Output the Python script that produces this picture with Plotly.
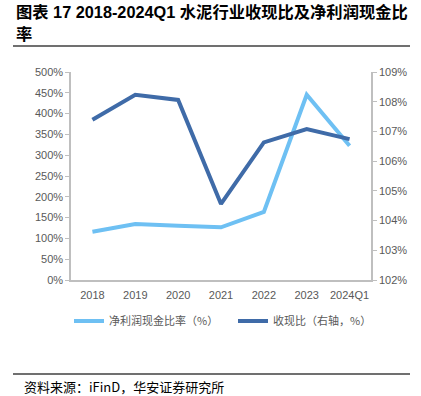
import plotly.graph_objects as go

categories = ["2018", "2019", "2020", "2021", "2022", "2023", "2024Q1"]
net_profit_cash_ratio = [116.0, 134.6, 130.5, 126.7, 163.5, 445.4, 322.8]   # %
cash_collection_ratio = [107.39, 108.23, 108.06, 104.56, 106.63, 107.08, 106.74]  # % (right axis)
left_ticks = [0, 50, 100, 150, 200, 250, 300, 350, 400, 450, 500]
right_ticks = [102, 103, 104, 105, 106, 107, 108, 109]

LIGHT = "#6EC0F3"
DARK = "#3F6BA8"
AXIS = "#BFBFBF"
TXT = "#595959"
FONT = "Liberation Sans, Noto Sans CJK SC, sans-serif"

W, H = 421, 396
ml, mr, mt, mb = 71, 50, 72, 116
pw = W - ml - mr
ph = H - mt - mb
def px(x):
    return (x - ml) / pw
def py(y):
    return (H - mb - y) / ph

fig = go.Figure()
fig.add_trace(go.Scatter(
    x=categories, y=net_profit_cash_ratio, mode="lines",
    name="净利润现金比率（%）", line=dict(color=LIGHT, width=4), legend="legend",
))
fig.add_trace(go.Scatter(
    x=categories, y=cash_collection_ratio, mode="lines", yaxis="y2",
    name="收现比（右轴，%）", line=dict(color=DARK, width=4), legend="legend2",
))

leg_common = dict(
    orientation="h", xanchor="left", yanchor="middle",
    font=dict(size=11, color=TXT, family="Noto Sans CJK SC"),
    itemwidth=30, bgcolor="rgba(0,0,0,0)",
)

fig.update_layout(
    width=W, height=H,
    margin=dict(l=ml, r=mr, t=mt, b=mb),
    paper_bgcolor="white", plot_bgcolor="white",
    font=dict(family=FONT, size=11, color=TXT),
    showlegend=True,
    legend=dict(x=px(69), y=py(321), **leg_common),
    legend2=dict(x=px(233), y=py(321), **leg_common),
    xaxis=dict(
        type="category", range=[-0.5, len(categories) - 0.5],
        showgrid=False, showline=True, linecolor=AXIS, linewidth=1.5,
        ticks="", tickfont=dict(size=11, color=TXT), zeroline=False, ticklabelstandoff=4,
    ),
    yaxis=dict(
        range=[0, 500], tickvals=left_ticks, ticktext=[f"{v}%" for v in left_ticks],
        showgrid=False, showline=True, linecolor=AXIS, linewidth=1.5,
        ticks="outside", ticklen=4, tickcolor=AXIS, zeroline=False,
        tickfont=dict(size=11, color=TXT),
    ),
    yaxis2=dict(
        range=[102, 109], tickvals=right_ticks, ticktext=[f"{v}%" for v in right_ticks],
        overlaying="y", side="right", showgrid=False, showline=True, linecolor=AXIS,
        linewidth=1.5, ticks="outside", ticklen=4, tickcolor=AXIS, zeroline=False,
        tickfont=dict(size=11, color=TXT),
    ),
)

fig.add_annotation(
    text="<b>图表 17 2018-2024Q1 水泥行业收现比及净利润现金比</b>",
    xref="paper", yref="paper", x=px(14), y=py(12), xanchor="left", yanchor="middle",
    showarrow=False, font=dict(size=16.3, color="#000000", family="Liberation Sans, Noto Sans CJK SC"),
)
fig.add_annotation(
    text="<b>率</b>",
    xref="paper", yref="paper", x=px(14), y=py(33), xanchor="left", yanchor="middle",
    showarrow=False, font=dict(size=16.3, color="#000000", family="Noto Sans CJK SC"),
)
fig.add_shape(type="line", xref="paper", yref="paper", x0=px(13), x1=px(410), y0=py(46), y1=py(46),
              line=dict(color="#404040", width=1.5))
fig.add_shape(type="line", xref="paper", yref="paper", x0=px(13), x1=px(410), y0=py(374), y1=py(374),
              line=dict(color="#404040", width=1.5))
fig.add_annotation(
    text="资料来源：iFinD，华安证券研究所",
    xref="paper", yref="paper", x=px(22), y=py(386), xanchor="left", yanchor="middle",
    showarrow=False, font=dict(size=13, color="#000000", family="Noto Sans CJK SC"),
)

fig.write_html("out.html", config={"displayModeBar": False},
               post_script="document.body.style.margin='0';")
